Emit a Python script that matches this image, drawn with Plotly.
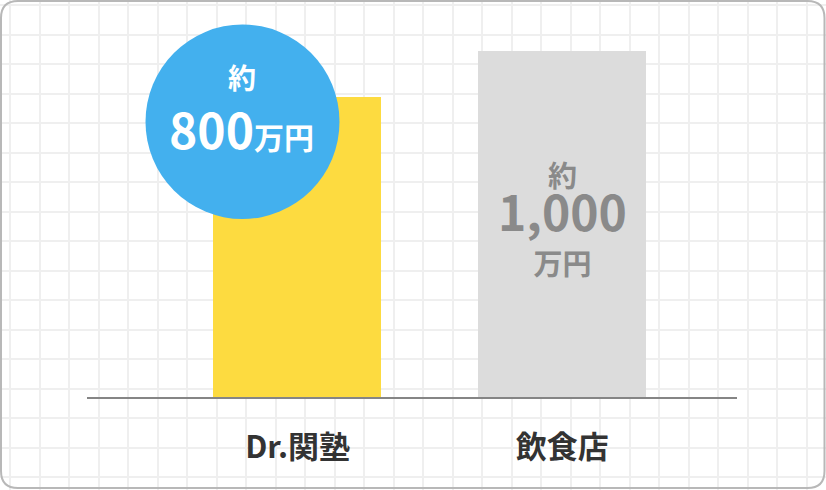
import plotly.graph_objects as go

# ---- data ----
categories = ["Dr.関塾", "飲食店"]
values = [865, 1000]          # bar heights as drawn (万円)
prefix = "約"
amount_labels = ["800", "1,000"]
unit = "万円"
bar_colors = ["#FDDB40", "#DCDCDC"]

W, H = 826, 490
FONT = "Noto Sans CJK JP"

fig = go.Figure()

# background grid subplot (pixel coordinates)
fig.add_trace(go.Scatter(x=[0], y=[0], mode="markers", marker=dict(opacity=0),
                         hoverinfo="skip", showlegend=False, xaxis="x", yaxis="y"))

# bars
fig.add_trace(go.Bar(x=categories, y=values, marker=dict(color=bar_colors, line=dict(width=0)),
                     width=0.636, xaxis="x2", yaxis="y2", showlegend=False, hoverinfo="skip"))

base_px = 397.3
top_px = 50.7
ymax = values[1] * base_px / (base_px - top_px)

fig.update_layout(
    width=W, height=H,
    margin=dict(l=0, r=0, t=0, b=0),
    paper_bgcolor="white", plot_bgcolor="rgba(0,0,0,0)",
    font=dict(family=FONT),
    xaxis=dict(domain=[0, 1], range=[0, W], tick0=10, dtick=29.5, showgrid=True,
               gridcolor="#EFEFEF", gridwidth=1.5, showticklabels=False, zeroline=False,
               showline=False, ticks="", fixedrange=True),
    yaxis=dict(domain=[0, 1], range=[H, 0], tick0=5, dtick=29.5, showgrid=True,
               gridcolor="#EFEFEF", gridwidth=1.5, showticklabels=False, zeroline=False,
               showline=False, ticks="", fixedrange=True),
    xaxis2=dict(domain=[87.3 / W, 736.5 / W], anchor="y2", type="category",
                range=[-0.795, 1.659], showline=True, linecolor="#858585", linewidth=2,
                showgrid=False, zeroline=False, ticks="", ticklabelstandoff=21,
                tickfont=dict(family=FONT, size=31, color="#333333", weight="bold")),
    yaxis2=dict(domain=[(H - base_px) / H, 1], anchor="x2", range=[0, ymax], visible=False,
                showgrid=False, zeroline=False),
    bargap=0,
)

# rounded border
r = 17
x0, y0, x1, y1 = 1, 1, 824.5, 488
path = (f"M {x0+r},{y0} L {x1-r},{y0} Q {x1},{y0} {x1},{y0+r} L {x1},{y1-r} "
        f"Q {x1},{y1} {x1-r},{y1} L {x0+r},{y1} Q {x0},{y1} {x0},{y1-r} "
        f"L {x0},{y0+r} Q {x0},{y0} {x0+r},{y0} Z")
fig.add_shape(type="path", path=path, xref="x", yref="y", line=dict(color="#B8B8B8", width=2),
              fillcolor="rgba(0,0,0,0)", layer="above")

# blue circle
fig.add_shape(type="circle", xref="x", yref="y", x0=145.5, x1=339.5, y0=24.5, y1=219,
              fillcolor="#43B0EE", line=dict(width=0), layer="above")

# circle texts
fig.add_annotation(x=241.7, y=76.5, xref="x", yref="y", text=prefix, showarrow=False,
                   font=dict(family=FONT, size=28, color="white", weight="bold"))
fig.add_annotation(x=241.5, y=127.5, xref="x", yref="y",
                   text=f"{amount_labels[0]}<span style='font-size:30px'>{unit}</span>",
                   showarrow=False, font=dict(family=FONT, size=48, color="white", weight="bold"))

# gray bar text (one multi-line block)
fig.add_annotation(x=562.5, y=218, xref="x", yref="y",
                   text=(f"<span style='font-size:29px'>{prefix}</span><br>"
                         f"<span style='font-size:48px'>{amount_labels[1]}</span><br>"
                         f"<span style='font-size:29px'>{unit}</span>"),
                   showarrow=False,
                   font=dict(family=FONT, size=34, color="#8A8A8A", weight="bold"))

fig.write_html("out.html", config={"displayModeBar": False},
               post_script="document.body.style.margin='0';document.body.style.overflow='hidden';")
